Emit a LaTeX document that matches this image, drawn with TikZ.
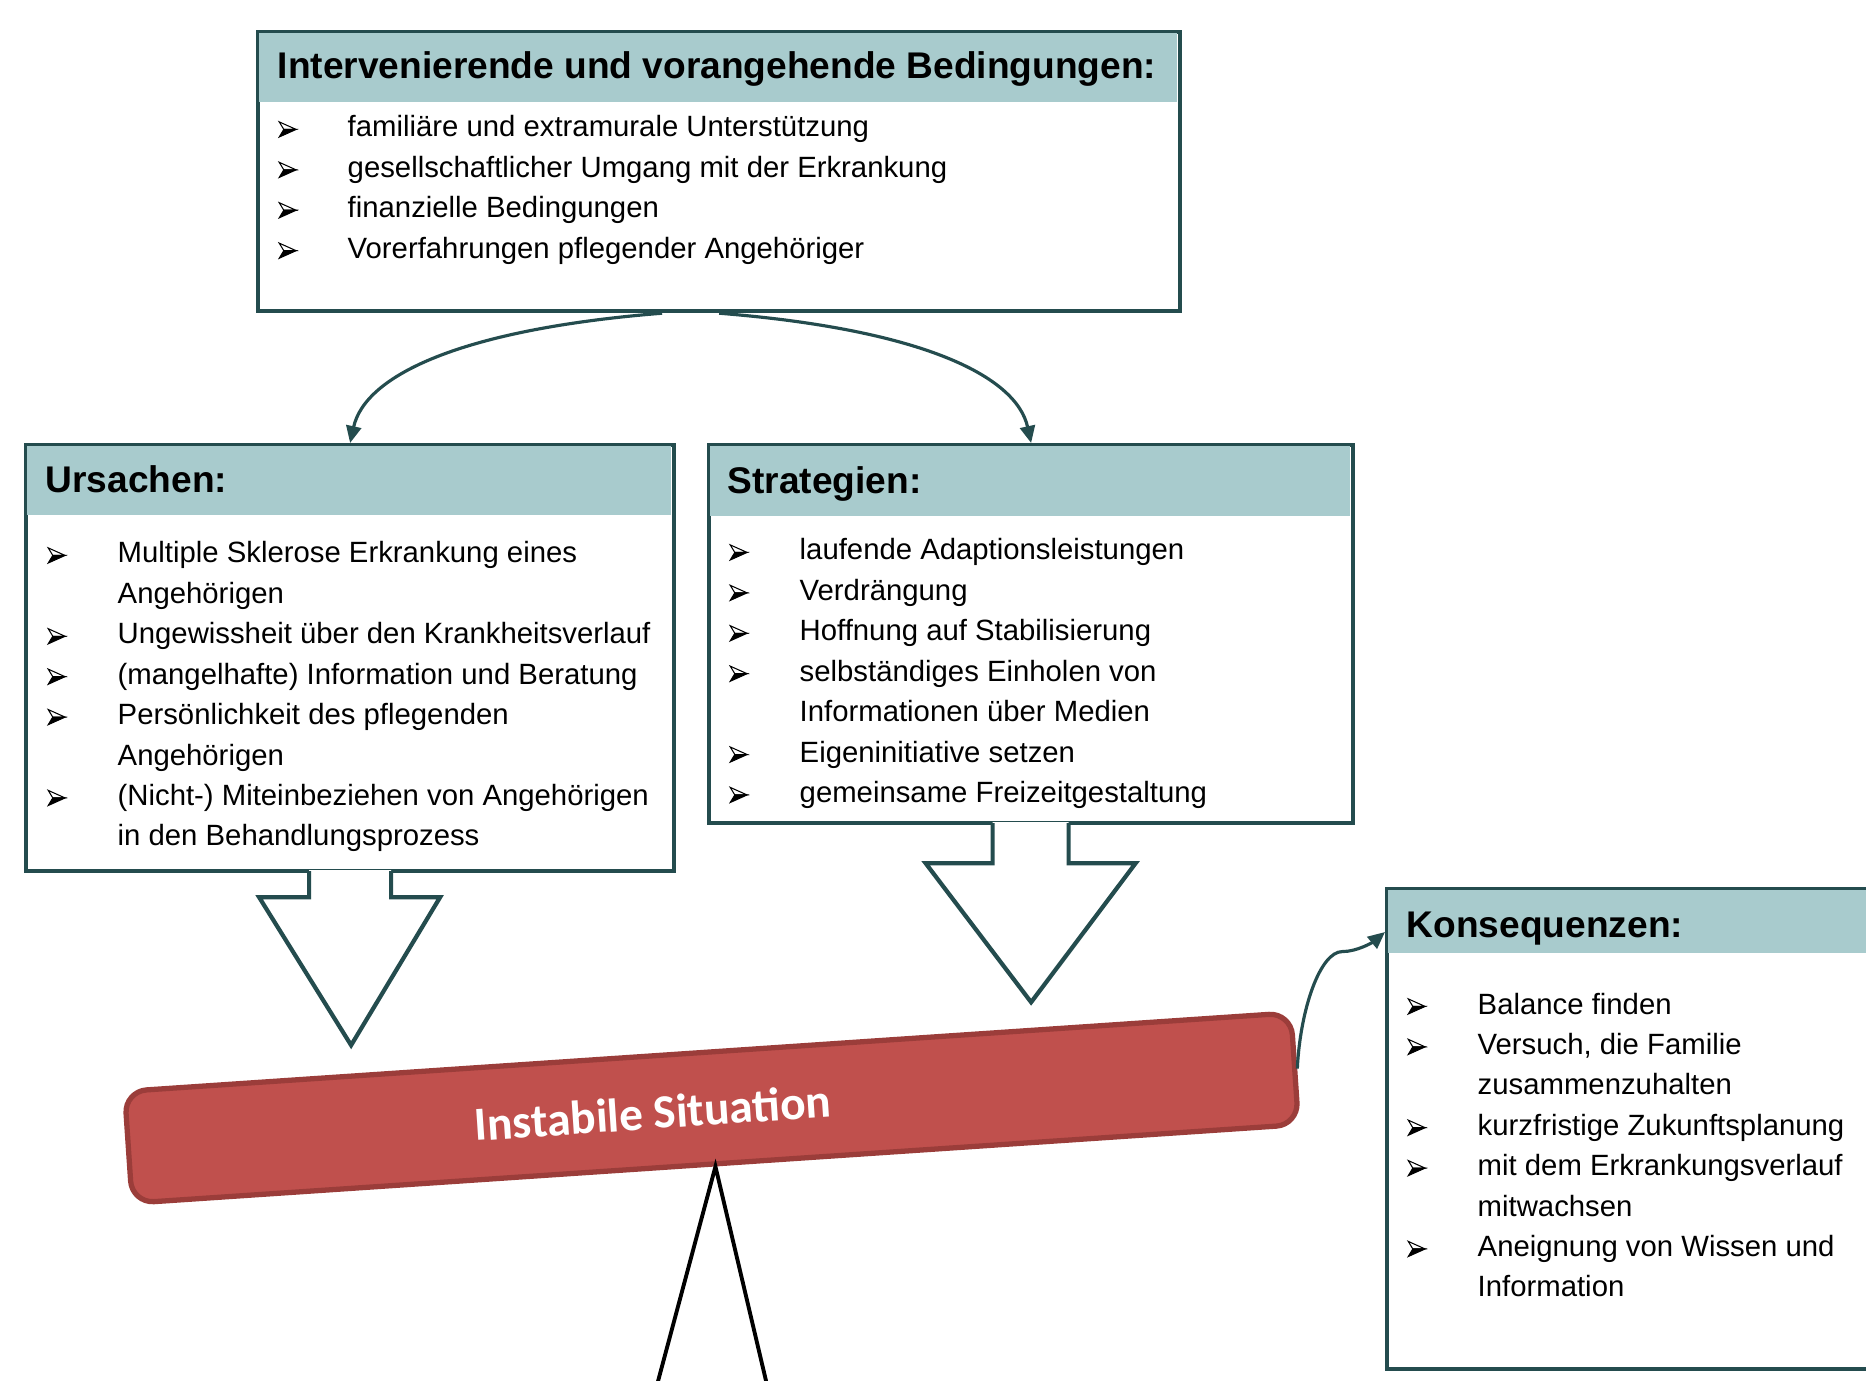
\documentclass[tikz,border=0pt]{standalone}
\usepackage{fontspec}
\setmainfont{Liberation Sans}
\newfontfamily\calibrifont{Carlito}
\usetikzlibrary{arrows.meta}
\definecolor{randteal}{HTML}{244C4E}
\definecolor{kopfgruen}{HTML}{A8CBCD}
\definecolor{balkenrot}{HTML}{C0504D}
\definecolor{balkenrand}{HTML}{9B3D3A}
% Aufzaehlungspfeil
\newsavebox\pfbox
\sbox\pfbox{\tikz[baseline=0pt, x=1pt, y=1pt, line width=0.3pt, line join=miter]{
  \filldraw[fill=white] (0,4.3) -- (4.8,2.15) -- (1.3,2.15) -- cycle;
  \filldraw[fill=black] (0,0) -- (4.8,2.15) -- (1.3,2.15) -- cycle;}}
\newcommand{\pf}{\usebox\pfbox}

\begin{document}
\begin{tikzpicture}[
  kasten/.style={draw=randteal, line width=1.2pt, fill=white, inner sep=0pt, anchor=north west},
  kopf/.style={fill=kopfgruen, inner sep=0pt, anchor=north west},
  titel/.style={anchor=base west, inner sep=0pt, font=\fontsize{10.56}{12}\selectfont\bfseries},
  liste/.style={anchor=base west, inner sep=0pt, font=\fontsize{8.34}{11.5}\selectfont},
  bogen/.style={draw=randteal, line width=0.9pt, -{Triangle[length=0.17cm,width=0.15cm]}},
  blockpfeil/.style={draw=randteal, line width=1.2pt, line join=miter},
  balken/.style={draw=balkenrand, line width=1.5pt, fill=balkenrot, rounded corners=0.22cm, inner sep=0pt, rotate=3.85},
]
\useasboundingbox (0,0) rectangle (18.66,-13.81);

% Kaesten
\node[kasten, minimum width=9.22cm, minimum height=2.79cm] (bed) at (2.56,-0.30) {};
\node[kopf, minimum width=9.22cm-1.2pt, minimum height=0.71cm-0.6pt] (bedkopf) at ([xshift=0.6pt,yshift=-0.6pt]bed.north west) {};
\node[kasten, minimum width=6.48cm, minimum height=4.26cm] (urs) at (0.24,-4.43) {};
\node[kopf, minimum width=6.48cm-1.2pt, minimum height=0.71cm-0.6pt] (urskopf) at ([xshift=0.6pt,yshift=-0.6pt]urs.north west) {};
\node[kasten, minimum width=6.44cm, minimum height=3.78cm] (str) at (7.07,-4.43) {};
\node[kopf, minimum width=6.44cm-1.2pt, minimum height=0.72cm-0.6pt] (strkopf) at ([xshift=0.6pt,yshift=-0.6pt]str.north west) {};
\node[kasten, minimum width=5.3cm, minimum height=4.80cm] (kon) at (13.85,-8.87) {};
\node[kopf, minimum width=5.3cm-1.2pt, minimum height=0.65cm-0.6pt] (konkopf) at ([xshift=0.6pt,yshift=-0.6pt]kon.north west) {};

% Titel
\node[titel] (bedtitel) at (2.77,-0.79) {Intervenierende und vorangehende Bedingungen:};
\node[titel] (urstitel) at (0.45,-4.93) {Ursachen:};
\node[titel] (strtitel) at (7.27,-4.94) {Strategien:};
\node[titel] (kontitel) at (14.06,-9.37) {Konsequenzen:};

% Listen
\node[liste] (bedliste) at (2.78,-1.37) {\begin{tabular}[t]{@{}p{0.69cm}@{}l@{}}
\pf & familiäre und extramurale Unterstützung\\
\pf & gesellschaftlicher Umgang mit der Erkrankung\\
\pf & finanzielle Bedingungen\\
\pf & Vorerfahrungen pflegender Angehöriger
\end{tabular}};
\node[liste] (ursliste) at (0.47,-5.63) {\begin{tabular}[t]{@{}p{0.70cm}@{}l@{}}
\pf & Multiple Sklerose Erkrankung eines\\
    & Angehörigen\\
\pf & Ungewissheit über den Krankheitsverlauf\\
\pf & (mangelhafte) Information und Beratung\\
\pf & Persönlichkeit des pflegenden\\
    & Angehörigen\\
\pf & (Nicht-) Miteinbeziehen von Angehörigen\\
    & in den Behandlungsprozess
\end{tabular}};
\node[liste] (strliste) at (7.29,-5.60) {\begin{tabular}[t]{@{}p{0.70cm}@{}l@{}}
\pf & laufende Adaptionsleistungen\\
\pf & Verdrängung\\
\pf & Hoffnung auf Stabilisierung\\
\pf & selbständiges Einholen von\\
    & Informationen über Medien\\
\pf & Eigeninitiative setzen\\
\pf & gemeinsame Freizeitgestaltung
\end{tabular}};
\node[liste] (konliste) at (14.07,-10.14) {\begin{tabular}[t]{@{}p{0.70cm}@{}l@{}}
\pf & Balance finden\\
\pf & Versuch, die Familie\\
    & zusammenzuhalten\\
\pf & kurzfristige Zukunftsplanung\\
\pf & mit dem Erkrankungsverlauf\\
    & mitwachsen\\
\pf & Aneignung von Wissen und\\
    & Information
\end{tabular}};

% Blockpfeile
\begin{scope}[shift={(urs.south)}]
\fill[white] (-0.41,0.03) -- (-0.41,-0.24) -- (-0.91,-0.24) -- (0.01,-1.72) -- (0.90,-0.24) -- (0.41,-0.24) -- (0.41,0.03) -- cycle;
\draw[blockpfeil] (-0.41,0.02) -- (-0.41,-0.24) -- (-0.91,-0.24) -- (0.01,-1.72) -- (0.90,-0.24) -- (0.41,-0.24) -- (0.41,0.02);
\end{scope}
\begin{scope}[shift={(str.south)}]
\fill[white] (-0.385,0.03) -- (-0.385,-0.38) -- (-1.055,-0.38) -- (0,-1.77) -- (1.045,-0.38) -- (0.375,-0.38) -- (0.375,0.03) -- cycle;
\draw[blockpfeil] (-0.385,0.02) -- (-0.385,-0.38) -- (-1.055,-0.38) -- (0,-1.77) -- (1.045,-0.38) -- (0.375,-0.38) -- (0.375,0.02);
\end{scope}

% Balken
\node[balken, minimum width=11.69cm, minimum height=1.12cm] (sit) at (7.115,-11.08) {};
\node[anchor=base, rotate=3.85, inner sep=0pt, text=white, font=\calibrifont\bfseries\fontsize{13.5}{16}\selectfont] (sittext) at (6.54,-11.29) {Instabile Situation};
\draw[line width=1.1pt] (6.57,-13.85) -- (sit.south) -- (7.67,-13.85);

% Verbindungen
\draw[bogen] ([xshift=-0.57cm]bed.south) .. controls +(-2.0,-0.16) and +(0.15,0.68) .. (urs.north);
\draw[bogen] (bed.south) .. controls +(2.0,-0.16) and +(-0.15,0.68) .. (str.north);
\coordinate (konein) at ([yshift=-0.45cm]kon.north west);
\draw[bogen] (sit.east) .. controls +(0.03,0.6) and +(-0.22,0) .. ++(0.45,1.17) .. controls +(0.15,0) and +(-0.12,-0.1) .. (konein);
\end{tikzpicture}
\end{document}
